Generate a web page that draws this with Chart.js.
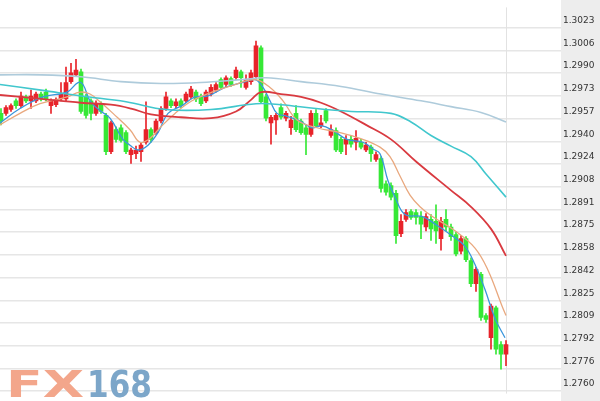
<!DOCTYPE html>
<html><head><meta charset="utf-8">
<script src="https://cdn.jsdelivr.net/npm/chart.js@4/dist/chart.umd.min.js"></script>
<style>html,body{margin:0;padding:0;background:#fff;overflow:hidden}canvas{display:block}</style>
</head><body>
<canvas id="c" width="600" height="401"></canvas>
<script>
// Y-axis tick labels (price)
const tickLabels = ['1.3023','1.3006','1.2990','1.2973','1.2957','1.2940','1.2924','1.2908','1.2891','1.2875','1.2858','1.2842','1.2825','1.2809','1.2792','1.2776','1.2760'];

// Candles (OHLC), one per bar index 0..101
const openP = [1.29610,1.29610,1.29638,1.29701,1.29666,1.29729,1.29701,1.29701,1.29750,1.29764,
1.29666,1.29673,1.29715,1.29715,1.29840,1.29889,1.29910,1.29729,1.29701,1.29610,
1.29680,1.29596,1.29332,1.29492,1.29506,1.29471,1.29311,1.29318,1.29332,1.29401,
1.29492,1.29471,1.29555,1.29645,1.29701,1.29666,1.29701,1.29701,1.29729,1.29764,
1.29729,1.29701,1.29750,1.29778,1.29854,1.29819,1.29861,1.29868,1.29910,1.29798,
1.29840,1.29875,1.30084,1.29729,1.29541,1.29562,1.29652,1.29575,1.29506,1.29610,
1.29555,1.29506,1.29457,1.29610,1.29520,1.29631,1.29450,1.29485,1.29422,1.29387,
1.29422,1.29401,1.29401,1.29345,1.29366,1.29276,1.29283,1.29101,1.29088,1.29032,
1.28739,1.28843,1.28899,1.28892,1.28864,1.28788,1.28843,1.28829,1.28704,1.28843,
1.28788,1.28732,1.28613,1.28704,1.28544,1.28377,1.28446,1.28147,1.27986,1.28202,
1.27937,1.27868];
const highP = [1.29645,1.29666,1.29680,1.29715,1.29764,1.29743,1.29778,1.29764,1.29764,1.29785,
1.29715,1.29722,1.29833,1.29945,1.29973,1.30001,1.29931,1.29750,1.29715,1.29701,
1.29694,1.29610,1.29555,1.29513,1.29527,1.29485,1.29359,1.29373,1.29401,1.29694,
1.29506,1.29568,1.29659,1.29764,1.29715,1.29715,1.29715,1.29764,1.29805,1.29778,
1.29750,1.29778,1.29819,1.29833,1.29868,1.29882,1.29875,1.29945,1.29924,1.29889,
1.29924,1.30133,1.30098,1.29750,1.29596,1.29610,1.29680,1.29624,1.29589,1.29666,
1.29568,1.29527,1.29631,1.29638,1.29596,1.29645,1.29527,1.29506,1.29436,1.29450,
1.29450,1.29485,1.29422,1.29401,1.29380,1.29332,1.29297,1.29122,1.29108,1.29053,
1.28878,1.28913,1.28913,1.28913,1.28899,1.28885,1.28878,1.28948,1.28857,1.28913,
1.28809,1.28753,1.28725,1.28718,1.28565,1.28495,1.28460,1.28161,1.28230,1.28216,
1.27958,1.27965];
const lowP = [1.29527,1.29596,1.29624,1.29645,1.29652,1.29687,1.29645,1.29687,1.29701,1.29701,
1.29610,1.29659,1.29701,1.29701,1.29826,1.29875,1.29610,1.29575,1.29562,1.29596,
1.29610,1.29311,1.29318,1.29401,1.29401,1.29318,1.29248,1.29283,1.29262,1.29387,
1.29401,1.29457,1.29541,1.29631,1.29652,1.29652,1.29652,1.29687,1.29715,1.29694,
1.29666,1.29687,1.29736,1.29764,1.29785,1.29798,1.29805,1.29854,1.29798,1.29785,
1.29819,1.29861,1.29680,1.29555,1.29387,1.29457,1.29568,1.29555,1.29457,1.29478,
1.29457,1.29311,1.29443,1.29506,1.29506,1.29541,1.29436,1.29332,1.29318,1.29311,
1.29366,1.29345,1.29352,1.29332,1.29262,1.29262,1.29039,1.29018,1.28983,1.28669,
1.28718,1.28829,1.28843,1.28809,1.28704,1.28760,1.28690,1.28669,1.28620,1.28760,
1.28690,1.28579,1.28592,1.28537,1.28356,1.28321,1.28112,1.28098,1.27903,1.27868,
1.27759,1.27784];
const closeP = [1.29555,1.29652,1.29666,1.29666,1.29736,1.29701,1.29736,1.29750,1.29715,1.29715,
1.29701,1.29708,1.29750,1.29833,1.29903,1.29924,1.29624,1.29596,1.29610,1.29680,
1.29624,1.29332,1.29541,1.29422,1.29415,1.29332,1.29345,1.29345,1.29380,1.29492,
1.29422,1.29555,1.29645,1.29729,1.29666,1.29694,1.29666,1.29750,1.29785,1.29715,
1.29680,1.29764,1.29798,1.29819,1.29798,1.29868,1.29819,1.29924,1.29868,1.29854,
1.29903,1.30098,1.29694,1.29575,1.29582,1.29596,1.29582,1.29610,1.29562,1.29492,
1.29471,1.29457,1.29610,1.29520,1.29541,1.29555,1.29492,1.29345,1.29332,1.29422,
1.29387,1.29429,1.29366,1.29380,1.29318,1.29311,1.29067,1.29039,1.29004,1.28725,
1.28829,1.28892,1.28857,1.28857,1.28809,1.28864,1.28774,1.28760,1.28829,1.28788,
1.28718,1.28592,1.28704,1.28551,1.28377,1.28481,1.28133,1.28119,1.28216,1.27903,
1.27868,1.27937];

// Moving averages (bar index, price)
const maShortIdx = [-0.2,3.8,8.4,13.2,15.4,16.4,17.8,19.8,21.8,24.4,25.8,27.4,29.4,31.4,33.4,36.2,38.8,41.4,44.8,48.2,50.8,52.4,53.8,55.2,57.2,59.8,62.2,64.2,66.4,69.2,72.4,74.4,75.8,77.4,78.8,80.8,84.2,87.4,90.2,92.8,94.8,96.8,98.8,100.8];
const maShortVal = [1.29541,1.29645,1.29729,1.29764,1.29833,1.29819,1.29701,1.29631,1.29575,1.29422,1.29380,1.29345,1.29380,1.29471,1.29610,1.29666,1.29729,1.29736,1.29798,1.29833,1.29854,1.29798,1.29701,1.29610,1.29589,1.29555,1.29506,1.29520,1.29485,1.29422,1.29401,1.29352,1.29318,1.29122,1.29004,1.28878,1.28864,1.28795,1.28725,1.28648,1.28516,1.28335,1.28126,1.27986];
const maMidIdx = [-0.2,3.8,7.8,13.2,15.8,17.8,19.8,22.4,25.8,27.8,29.8,31.8,34.8,38.2,42.2,46.8,50.8,53.8,56.4,59.2,63.2,67.8,71.8,75.8,77.8,79.8,81.8,83.8,86.2,90.8,94.8,97.4,100.2,101];
const maMidVal = [1.29527,1.29610,1.29680,1.29729,1.29764,1.29750,1.29694,1.29610,1.29492,1.29401,1.29429,1.29506,1.29610,1.29701,1.29764,1.29819,1.29854,1.29798,1.29701,1.29562,1.29506,1.29471,1.29429,1.29366,1.29297,1.29157,1.29018,1.28934,1.28865,1.28760,1.28635,1.28475,1.28216,1.28147];
const maRedIdx = [-0.2,8,16,22,26,30,36,42,47,50,52,56,60,64,68,73,78,83,90,94,98,101];
const maRedVal = [1.29743,1.29715,1.29687,1.29673,1.29645,1.29603,1.29582,1.29575,1.29624,1.29708,1.29764,1.29750,1.29729,1.29687,1.29624,1.29527,1.29422,1.29262,1.29053,1.28934,1.28774,1.28579];
const maCyanIdx = [-0.2,8,16,25,33,42,51,56,63,70,78,82,86,90,94,97,101];
const maCyanVal = [1.29819,1.29778,1.29736,1.29694,1.29638,1.29638,1.29680,1.29673,1.29645,1.29624,1.29610,1.29548,1.29450,1.29373,1.29297,1.29171,1.29004];
const maLongIdx = [-0.2,8,16,24,32,40,48,53,60,68,76,84,90,96,101];
const maLongVal = [1.29889,1.29889,1.29875,1.29840,1.29826,1.29833,1.29854,1.29868,1.29840,1.29805,1.29750,1.29701,1.29659,1.29617,1.29548];

const UP = '#e8232a', DOWN = '#36e836';
const idx = closeP.map((_, i) => i);
const candleColors = idx.map(i => closeP[i] >= openP[i] ? UP : DOWN);
const pts = (xs, ys) => xs.map((x, i) => ({x, y: ys[i]}));

const firstTick = parseFloat(tickLabels[0]);
const lastTick = parseFloat(tickLabels[tickLabels.length - 1]);
const tickStep = (firstTick - lastTick) / (tickLabels.length - 1);

const bgPlugin = {
  id: 'bg',
  beforeDraw(chart) {
    const {ctx, chartArea} = chart;
    ctx.save();
    ctx.fillStyle = '#ffffff';
    ctx.fillRect(0, 0, chart.width, chart.height);
    ctx.fillStyle = '#ededed';
    ctx.fillRect(chartArea.right, 0, chart.width - chartArea.right, chart.height);
    ctx.restore();
  },
  beforeDatasetsDraw(chart) {
    const {ctx, chartArea, scales} = chart;
    const xp = Math.round(scales.x.getPixelForValue(idx[idx.length - 1])) + 0.5;
    ctx.save();
    ctx.strokeStyle = '#e2e2e2';
    ctx.lineWidth = 1;
    ctx.beginPath();
    ctx.moveTo(xp, chartArea.top);
    ctx.lineTo(xp, chartArea.bottom);
    ctx.stroke();
    // watermark logo
    ctx.textBaseline = 'alphabetic';
    ctx.font = 'bold 37px "DejaVu Sans"';
    const drawWide = (txt, x0, w, color) => {
      const m = ctx.measureText(txt).width;
      ctx.save();
      ctx.translate(x0, 397);
      ctx.scale(w / m, 1);
      ctx.fillStyle = color;
      ctx.fillText(txt, 0, 0);
      ctx.restore();
    };
    drawWide('FX', 6, 78, '#f3a68b');
    drawWide('168', 87, 65, '#7ca6c9');
    ctx.restore();
  }
};

new Chart(document.getElementById('c'), {
  type: 'bar',
  data: {
    datasets: [
      {type:'line', data: pts(maLongIdx, maLongVal), borderColor:'#aecbdb', borderWidth:1.6, pointRadius:0, tension:0.4, order:0},
      {type:'line', data: pts(maCyanIdx, maCyanVal), borderColor:'#41c7cd', borderWidth:1.6, pointRadius:0, tension:0.4, order:0},
      {type:'line', data: pts(maRedIdx, maRedVal), borderColor:'#d93a40', borderWidth:1.8, pointRadius:0, tension:0.4, order:0},
      {type:'line', data: pts(maMidIdx, maMidVal), borderColor:'#e9a87e', borderWidth:1.3, pointRadius:0, tension:0.4, order:0},
      {type:'line', data: pts(maShortIdx, maShortVal), borderColor:'#3a96dc', borderWidth:1.3, pointRadius:0, tension:0.4, order:0},
      {data: idx.map(i => ({x:i, y:[lowP[i], highP[i]]})), backgroundColor: candleColors, barThickness:1, grouped:false, borderWidth:0, order:2},
      {data: idx.map(i => ({x:i, y:[openP[i], closeP[i]]})), backgroundColor: candleColors, barThickness:4, grouped:false, borderWidth:0, order:1}
    ]
  },
  options: {
    responsive: false,
    devicePixelRatio: 1,
    animation: false,
    layout: {padding: 0},
    plugins: {legend:{display:false}, tooltip:{enabled:false}},
    scales: {
      x: {type:'linear', min:-0.2, max:112.0, offset:false, display:false},
      y: {
        position:'right', min:1.27582, max:1.30377,
        afterFit(s){ s.width = 39; },
        afterBuildTicks(s){ s.ticks = tickLabels.map((_, k) => ({value: firstTick - k*tickStep})); },
        grid:{color:'#e6e6e6', lineWidth:1.5, drawTicks:false},
        border:{display:false},
        ticks:{
          autoSkip:false, padding:2, labelOffset:-7, color:'#333333',
          font:{family:'"DejaVu Sans"', size:9},
          callback:(v, k) => tickLabels[k]
        }
      }
    }
  },
  plugins:[bgPlugin]
});
</script>
</body></html>
